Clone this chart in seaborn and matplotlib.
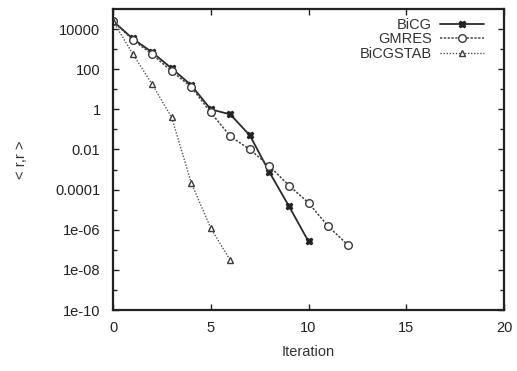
import numpy as np
import pandas as pd
import seaborn as sns
import matplotlib
matplotlib.use("Agg")
import matplotlib.pyplot as plt
from matplotlib.ticker import FixedLocator, NullFormatter

bicg_iter = [0, 1, 2, 3, 4, 5, 6, 7, 8, 9, 10]
bicg_res = [2.5e4, 3.4e3, 7.0e2, 1.1e2, 1.6e1, 1.0, 0.56, 0.05, 7.4e-4, 1.5e-5, 2.6e-7]

gmres_iter = [0, 1, 2, 3, 4, 5, 6, 7, 8, 9, 10, 11, 12]
gmres_res = [2.5e4, 3.0e3, 5.5e2, 8.0e1, 1.3e1, 0.7, 0.045, 0.01, 1.5e-3, 1.6e-4, 2.2e-5, 1.5e-6, 1.8e-7]

bicgstab_iter = [0, 1, 2, 3, 4, 5, 6]
bicgstab_res = [2.5e4, 6.0e2, 1.8e1, 0.4, 2.2e-4, 1.2e-6, 3.0e-8]

x_ticks = [0, 5, 10, 15, 20]
y_ticks = [1e4, 1e2, 1, 1e-2, 1e-4, 1e-6, 1e-8, 1e-10]
y_ticklabels = ["10000", "100", "1", "0.01", "0.0001", "1e-06", "1e-08", "1e-10"]

sns.set_style("ticks")
plt.rcParams['font.family'] = ['Liberation Sans', 'DejaVu Sans']

fig = plt.figure(figsize=(5.17, 3.71), dpi=100)
ax = fig.add_axes([113/517, (371-310)/371, (504-113)/517, (310-9)/371])

df = pd.concat([
    pd.DataFrame({"Iteration": bicg_iter, "res": bicg_res, "method": "BiCG"}),
    pd.DataFrame({"Iteration": gmres_iter, "res": gmres_res, "method": "GMRES"}),
    pd.DataFrame({"Iteration": bicgstab_iter, "res": bicgstab_res, "method": "BiCGSTAB"}),
])

styles = {
    "BiCG": dict(ls="-", marker="X", mfc="#222222", mec="#222222", ms=5, lw=1.3, color="#2a2a2a"),
    "GMRES": dict(ls=(0, (1.5, 1)), marker="o", mfc="white", mec="#3a3a3a", ms=5.5, lw=1.1, color="#444444"),
    "BiCGSTAB": dict(ls=(0, (1, 1.2)), marker="^", mfc="white", mec="#3a3a3a", ms=5, lw=1.0, color="#555555"),
}
for m in ["BiCG", "GMRES", "BiCGSTAB"]:
    s = styles[m]
    sns.lineplot(data=df[df.method == m], x="Iteration", y="res", ax=ax, label=m,
                 color=s["color"], linestyle=s["ls"], marker=s["marker"],
                 markerfacecolor=s["mfc"], markeredgecolor=s["mec"], markersize=s["ms"],
                 linewidth=s["lw"], markeredgewidth=1.0, errorbar=None)

ax.set_yscale("log")
ax.set_xlim(0, 20)
ax.set_ylim(1e-10, 1e5)
ax.xaxis.set_major_locator(FixedLocator(x_ticks))
ax.set_xticklabels([str(t) for t in x_ticks])
ax.yaxis.set_major_locator(FixedLocator(y_ticks))
ax.set_yticklabels(y_ticklabels)
ax.yaxis.set_minor_locator(FixedLocator([10.0**k for k in range(-9, 5, 2)]))
ax.yaxis.set_minor_formatter(NullFormatter())
ax.tick_params(which="both", direction="in", top=True, right=True, labelsize=10.5, colors="#222222")
ax.tick_params(axis="y", which="major", length=4, width=1, pad=9)
ax.tick_params(axis="x", which="major", length=4, width=1, pad=8)
ax.tick_params(which="minor", length=3, width=1)
for sp in ax.spines.values():
    sp.set_linewidth(1.6)
    sp.set_color("#222222")
ax.set_xlabel("Iteration", fontsize=10.5, color="#333333", labelpad=7)
ax.set_ylabel("< r,r >", fontsize=10.5, color="#333333", labelpad=20)

leg = ax.legend(loc="upper right", frameon=False, markerfirst=False, fontsize=10.5,
                handlelength=3.0, borderaxespad=0.2, labelspacing=0.05, handletextpad=0.55,
                bbox_to_anchor=(0.97, 1.0))
for t in leg.get_texts():
    t.set_color("#333333")

fig.savefig("out.png", dpi=100)
